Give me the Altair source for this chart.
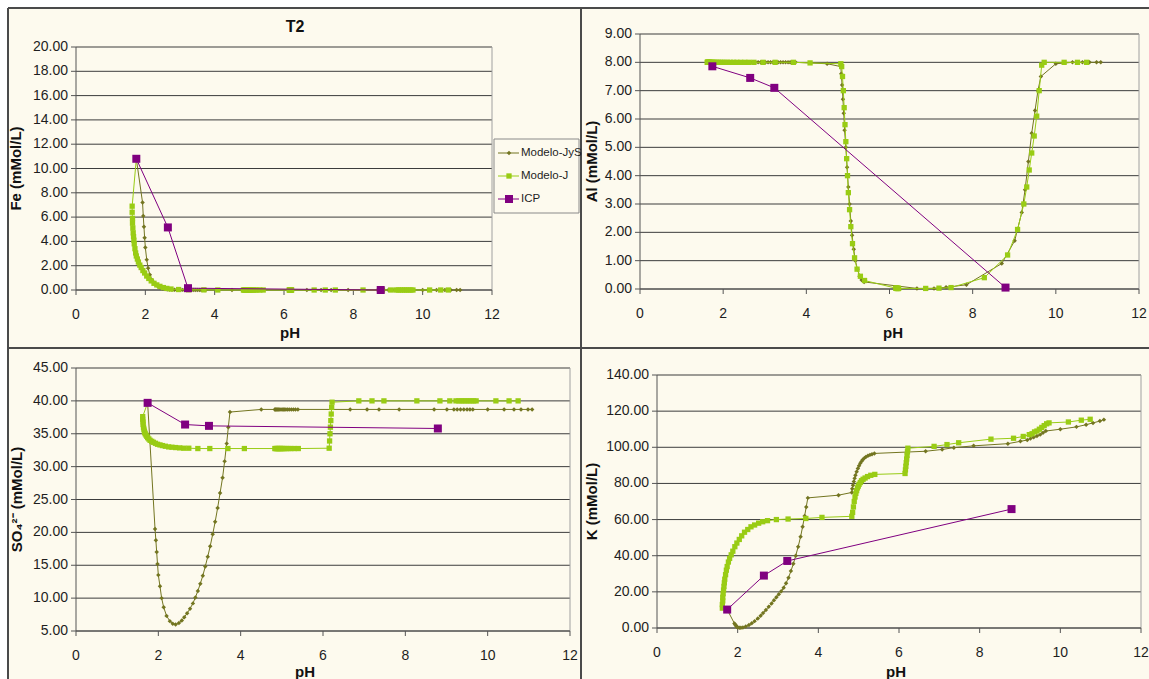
import altair as alt
import pandas as pd

# ---------------- data ----------------
X_TICKS = [0, 2, 4, 6, 8, 10, 12]
FE_TICKS = [0, 2, 4, 6, 8, 10, 12, 14, 16, 18, 20]
AL_TICKS = [0, 1, 2, 3, 4, 5, 6, 7, 8, 9]
SO4_TICKS = [5, 10, 15, 20, 25, 30, 35, 40, 45]
K_TICKS = [0, 20, 40, 60, 80, 100, 120, 140]

SERIES = ["Modelo-JyS", "Modelo-J", "ICP"]

ICP_PH = [1.74, 2.65, 3.23, 8.79]
FE_ICP = [10.8, 5.15, 0.15, 0.0]
AL_ICP = [7.86, 7.45, 7.1, 0.05]
SO4_ICP = [39.7, 36.4, 36.2, 35.8]
K_ICP = [10.2, 29.0, 37.1, 65.8]

J_PH = [1.74,
        1.62, 1.62, 1.63, 1.63, 1.64, 1.65, 1.66, 1.67, 1.68, 1.70,
        1.72, 1.74, 1.77, 1.80, 1.84, 1.88, 1.93, 1.98, 2.04, 2.10,
        2.17, 2.25, 2.33, 2.42, 2.52, 2.62, 2.74,
        2.96, 3.25, 3.69, 4.09,
        4.83, 4.85, 4.87, 4.89, 4.91, 4.93, 4.95, 4.97, 4.99, 5.01,
        5.04, 5.07, 5.11, 5.16, 5.22, 5.30, 5.40,
        6.15, 6.16, 6.17, 6.18, 6.19, 6.20, 6.21, 6.22,
        6.87, 7.19, 7.48, 8.28, 8.84, 9.08, 9.23, 9.30, 9.36, 9.42,
        9.48, 9.54, 9.60, 9.66, 9.72, 10.20, 10.52, 10.74]

FE_J = [10.8,
        6.9, 6.4, 5.9, 5.5, 5.1, 4.7, 4.4, 4.1, 3.8, 3.4,
        3.05, 2.8, 2.55, 2.3, 2.05, 1.85, 1.6, 1.4, 1.15, 0.95,
        0.75, 0.55, 0.42, 0.3, 0.2, 0.13, 0.08,
        0.04, 0.02, 0.01, 0.0,
        0.0, 0.0, 0.0, 0.0, 0.0, 0.0, 0.0, 0.0, 0.0, 0.0,
        0.0, 0.0, 0.0, 0.0, 0.0, 0.0, 0.0,
        0.0, 0.0, 0.0, 0.0, 0.0, 0.0, 0.0, 0.0,
        0.0, 0.0, 0.0, 0.0, 0.0, 0.0, 0.0, 0.0, 0.0, 0.0,
        0.0, 0.0, 0.0, 0.0, 0.0, 0.0, 0.0, 0.0]

AL_J = [7.9,
        8.0, 8.0, 8.0, 8.0, 8.0, 8.0, 8.0, 8.0, 8.0, 8.0,
        8.0, 8.0, 8.0, 8.0, 8.0, 8.0, 8.0, 8.0, 8.0, 8.0,
        8.0, 8.0, 8.0, 8.0, 8.0, 8.0, 8.0,
        8.0, 8.0, 8.0, 7.98,
        7.95, 7.85, 7.5, 7.0, 6.4, 5.8, 5.2, 4.6, 4.0, 3.4,
        2.8, 2.2, 1.6, 1.1, 0.7, 0.45, 0.3,
        0.03, 0.03, 0.02, 0.02, 0.02, 0.02, 0.02, 0.02,
        0.02, 0.03, 0.05, 0.4, 1.2, 2.1, 3.0, 3.6, 4.2, 4.8,
        5.4, 6.1, 7.0, 7.9, 8.0, 8.0, 8.0, 8.0]

SO4_J = [39.7,
         37.6, 37.2, 36.8, 36.4, 36.0, 35.7, 35.4, 35.2, 35.0, 34.8,
         34.6, 34.4, 34.2, 34.0, 33.85, 33.7, 33.55, 33.4, 33.3, 33.2,
         33.1, 33.0, 32.95, 32.9, 32.85, 32.8, 32.8,
         32.75, 32.75, 32.75, 32.75,
         32.75, 32.75, 32.75, 32.75, 32.75, 32.75, 32.75, 32.75, 32.75, 32.75,
         32.75, 32.75, 32.75, 32.75, 32.75, 32.75, 32.75,
         32.8, 33.9, 35.0, 36.0, 37.0, 38.0, 39.0, 39.8,
         40.0, 40.0, 40.0, 40.0, 40.0, 40.0, 40.0, 40.0, 40.0, 40.0,
         40.0, 40.0, 40.0, 40.0, 40.0, 40.0, 40.0, 40.0]

K_J = [10.2,
       11, 13, 15, 17, 19, 21, 23, 25, 27, 29.5,
       32, 34, 36.5, 38.5, 40.5, 42.5, 45, 47, 49, 51,
       53, 54.5, 56, 57, 58, 58.8, 59.4,
       60.0, 60.3, 60.6, 61.2,
       61.8, 64, 67, 70, 72.5, 74.5, 76, 77.5, 78.5, 79.5,
       80.5, 81.5, 82.3, 83, 83.8, 84.5, 85,
       85.5, 87.5, 89.5, 91.5, 93.5, 95.5, 97.5, 99.5,
       100.5, 101.5, 102.5, 104.5, 105, 106, 107, 107.5, 108.5, 109,
       110, 111, 112, 113, 113.5, 114, 115, 115.5]

JYS_PH = [1.74,
          1.92, 1.94, 1.96, 1.98, 2.00, 2.04, 2.08, 2.13, 2.20, 2.28,
          2.35, 2.42, 2.50, 2.57, 2.63, 2.70, 2.77, 2.84, 2.90, 2.96,
          3.02, 3.08, 3.14, 3.20, 3.26, 3.32, 3.38, 3.44, 3.50, 3.56,
          3.61, 3.66, 3.70, 3.74,
          4.50,
          4.83, 4.84, 4.86, 4.88, 4.90, 4.92, 4.95, 4.98, 5.01, 5.04,
          5.07, 5.10, 5.14, 5.18, 5.23, 5.28, 5.33, 5.39,
          6.66, 7.07, 7.36, 7.85, 8.70, 9.01, 9.18, 9.26, 9.34, 9.42,
          9.50, 9.57, 9.64, 10.00, 10.40, 10.64, 10.81, 10.98, 11.08]

FE_JYS = [10.8,
          7.2, 6.1, 5.2, 4.3, 3.5, 2.5, 1.8, 1.25, 0.8, 0.5,
          0.32, 0.2, 0.13, 0.08, 0.05, 0.03, 0.02, 0.02, 0.01, 0.01,
          0.01, 0.01, 0.01, 0.0, 0.0, 0.0, 0.0, 0.0, 0.0, 0.0,
          0.0, 0.0, 0.0, 0.0,
          0.0,
          0.0, 0.0, 0.0, 0.0, 0.0, 0.0, 0.0, 0.0, 0.0, 0.0,
          0.0, 0.0, 0.0, 0.0, 0.0, 0.0, 0.0, 0.0,
          0.0, 0.0, 0.0, 0.0, 0.0, 0.0, 0.0, 0.0, 0.0, 0.0,
          0.0, 0.0, 0.0, 0.0, 0.0, 0.0, 0.0, 0.0, 0.0]

AL_JYS = [7.9,
          8.0, 8.0, 8.0, 8.0, 8.0, 8.0, 8.0, 8.0, 8.0, 8.0,
          8.0, 8.0, 8.0, 8.0, 8.0, 8.0, 8.0, 8.0, 8.0, 8.0,
          8.0, 8.0, 8.0, 8.0, 8.0, 8.0, 8.0, 8.0, 8.0, 8.0,
          8.0, 8.0, 8.0, 8.0,
          7.95,
          7.85, 7.6, 7.2, 6.7, 6.2, 5.6, 5.0, 4.3, 3.6, 3.0,
          2.4, 1.9, 1.4, 1.0, 0.7, 0.45, 0.32, 0.25,
          0.02, 0.02, 0.06, 0.15, 0.9, 1.7, 2.7, 3.5, 4.5, 5.5,
          6.3, 7.0, 7.5, 7.95, 8.0, 8.0, 8.0, 8.0, 8.0]

SO4_JYS = [39.7,
           20.5, 18.8, 17.0, 15.2, 13.5, 11.8, 10.0, 8.6, 7.3, 6.5,
           6.1, 6.0, 6.2, 6.6, 7.1, 7.7, 8.4, 9.2, 10.1, 11.1,
           12.2, 13.4, 14.8, 16.3, 17.9, 19.7, 21.6, 23.7, 26.0, 28.3,
           30.8, 33.5, 36.0, 38.3,
           38.7,
           38.7, 38.7, 38.7, 38.7, 38.7, 38.7, 38.7, 38.7, 38.7, 38.7,
           38.7, 38.7, 38.7, 38.7, 38.7, 38.7, 38.7, 38.7,
           38.7, 38.7, 38.7, 38.7, 38.7, 38.7, 38.7, 38.7, 38.7, 38.7,
           38.7, 38.7, 38.7, 38.7, 38.7, 38.7, 38.7, 38.7, 38.7]

K_JYS = [10.2,
         2.5, 1.8, 1.2, 0.7, 0.3, 0.1, 0.1, 0.3, 0.8, 1.6,
         2.6, 3.8, 5.3, 6.8, 8.3, 10.0, 11.8, 13.6, 15.4, 17.0,
         18.7, 20.3, 22.3, 24.8, 27.8, 31.5, 35.5, 40.0, 45.0, 50.5,
         56.0, 62.0, 67.0, 72.0,
         73.5,
         75, 77, 79, 81, 82.8, 84.5, 86.5, 88.3, 89.8, 91.1,
         92.2, 93.1, 94, 94.7, 95.3, 95.8, 96.2, 96.6,
         97.8, 98.8, 99.8, 100.8, 102, 103.3, 104, 104.8, 105.5, 106.2,
         107, 108, 109, 110, 111.3, 112.5, 113.5, 114.5, 115.3]

# ---------------- styles ----------------
CREAM = "#fdfaee"
OLIVE = "#737520"
LIME = "#99cc14"
PURPLE = "#800080"
GRID = "#3c3c3c"
AXIS = "#555555"
BORDER = "#a0a0a0"
FRAME = "#4a4a4a"
TXT = "#1e1e1e"
FONT = "Liberation Sans Narrow, Arial Narrow, Liberation Sans, Arial, sans-serif"
BOLD = "Liberation Sans, Arial, sans-serif"

STYLE = {
    "Modelo-JyS": dict(color=OLIVE, shape="diamond", size=20),
    "Modelo-J": dict(color=LIME, shape="square", size=28),
    "ICP": dict(color=PURPLE, shape="square", size=64),
}

ONE = pd.DataFrame({"k": [0]})


def frame(ph, vals):
    return pd.DataFrame({"pH": ph, "v": vals, "i": list(range(len(ph)))})


def panel(jys, j, icp, ydom, yticks, ytitle, xr, yr, ytitle_x, ph_xy):
    """One chart panel; xr / yr are the pixel ranges of its plot area."""
    xs = alt.Scale(domain=[0, 12], range=xr, nice=False, zero=False)
    ys = alt.Scale(domain=ydom, range=yr, nice=False, zero=False)
    ymin, ymax = ydom

    def X(f):
        return alt.X(f, scale=xs, axis=None)

    def Y(f):
        return alt.Y(f, scale=ys, axis=None)

    ydf = pd.DataFrame({"t": yticks, "x0": [0] * len(yticks), "x1": [12] * len(yticks)})
    xdf = pd.DataFrame({"t": X_TICKS, "y0": [ymin] * len(X_TICKS)})
    box = pd.DataFrame({"x0": [0], "x1": [12], "y0": [ymin], "y1": [ymax]})

    layers = [
        # horizontal grid
        alt.Chart(ydf).mark_rule(color=GRID, strokeWidth=1).encode(
            x=X("x0:Q"), x2="x1:Q", y=Y("t:Q")),
        # right border of the plot area
        alt.Chart(box).mark_rule(color=BORDER, strokeWidth=1).encode(
            x=X("x1:Q"), y=Y("y0:Q"), y2="y1:Q"),
        # axis lines
        alt.Chart(box).mark_rule(color=AXIS, strokeWidth=1).encode(
            x=X("x0:Q"), y=Y("y0:Q"), y2="y1:Q"),
        alt.Chart(box).mark_rule(color=AXIS, strokeWidth=1).encode(
            x=X("x0:Q"), x2="x1:Q", y=Y("y0:Q")),
        # tick marks
        alt.Chart(ydf).mark_rule(color=AXIS, strokeWidth=1, x2Offset=-5).encode(
            x=X("x0:Q"), x2="x0:Q", y=Y("t:Q")),
        alt.Chart(xdf).mark_rule(color=AXIS, strokeWidth=1, y2Offset=5).encode(
            x=X("t:Q"), y=Y("y0:Q"), y2="y0:Q"),
    ]
    for name, ph, vals in [("Modelo-JyS", JYS_PH, jys), ("Modelo-J", J_PH, j), ("ICP", ICP_PH, icp)]:
        st = STYLE[name]
        base = alt.Chart(frame(ph, vals)).encode(x=X("pH:Q"), y=Y("v:Q"), order=alt.Order("i:Q"))
        layers.append(base.mark_line(color=st["color"], strokeWidth=1))
        layers.append(base.mark_point(color=st["color"], shape=st["shape"], size=st["size"],
                                      filled=True, opacity=1, strokeWidth=0))
    layers += [
        # tick labels
        alt.Chart(ydf).mark_text(align="right", baseline="middle", dx=-8, font=FONT,
                                 fontSize=14, color=TXT).encode(
            x=X("x0:Q"), y=Y("t:Q"), text=alt.Text("t:Q", format=".2f")),
        alt.Chart(xdf).mark_text(align="center", baseline="middle", dy=25, font=FONT,
                                 fontSize=14, color=TXT).encode(
            x=X("t:Q"), y=Y("y0:Q"), text=alt.Text("t:Q", format="d")),
        # axis titles
        alt.Chart(ONE).mark_text(text=ytitle, angle=270, align="center", baseline="middle",
                                 font=BOLD, fontSize=15, fontWeight="bold", color="#111111").encode(
            x=alt.value(ytitle_x), y=alt.value((yr[0] + yr[1]) / 2)),
        alt.Chart(ONE).mark_text(text="pH", align="center", baseline="middle",
                                 font=BOLD, fontSize=15, fontWeight="bold", color="#111111").encode(
            x=alt.value(ph_xy[0]), y=alt.value(ph_xy[1])),
    ]
    return alt.layer(*layers)


TL = panel(FE_JYS, FE_J, FE_ICP, [0, 20], FE_TICKS, "Fe (mMol/L)",
           [76, 492], [290, 47], 16, (290, 333))
TR = panel(AL_JYS, AL_J, AL_ICP, [0, 9], AL_TICKS, "Al (mMol/L)",
           [640, 1139], [289, 34], 592, (893, 333))
BL = panel(SO4_JYS, SO4_J, SO4_ICP, [5, 45], SO4_TICKS, "SO₄²⁻ (mMol/L)",
           [76, 570], [631, 368], 17, (305, 672))
BR = panel(K_JYS, K_J, K_ICP, [0, 140], K_TICKS, "K (mMol/L)",
           [657, 1141], [628, 375], 592, (896, 672))


# ---------------- page decorations (absolute pixels) ----------------
def rule(x1, x2, y1, y2, color=FRAME, width=2):
    return alt.Chart(ONE).mark_rule(color=color, strokeWidth=width).encode(
        x=alt.value(x1), x2=alt.value(x2), y=alt.value(y1), y2=alt.value(y2))


deco = [
    alt.Chart(ONE).mark_rect(fill=CREAM).encode(
        x=alt.value(8), x2=alt.value(1149), y=alt.value(8), y2=alt.value(679)),
    rule(8, 1149, 8, 8),
    rule(8, 8, 8, 679),
    rule(581, 581, 8, 679),
    rule(8, 1149, 348, 348),
]

# legend of the first panel and its title
LEG_Y = [153, 176, 199]
legend = [alt.Chart(ONE).mark_rect(fillOpacity=0, stroke="#8a8a8a", strokeWidth=1).encode(
    x=alt.value(494), x2=alt.value(579), y=alt.value(139), y2=alt.value(213))]
for name, yy in zip(SERIES, LEG_Y):
    st = STYLE[name]
    legend.append(alt.Chart(ONE).mark_rule(color=st["color"], strokeWidth=1).encode(
        x=alt.value(498), x2=alt.value(519), y=alt.value(yy)))
    legend.append(alt.Chart(ONE).mark_point(color=st["color"], shape=st["shape"],
                                            size=st["size"], filled=True, opacity=1,
                                            strokeWidth=0).encode(
        x=alt.value(509), y=alt.value(yy)))
    legend.append(alt.Chart(ONE).mark_text(text=name, align="left", baseline="middle",
                                           font=FONT, fontSize=11.5, color=TXT).encode(
        x=alt.value(521), y=alt.value(yy)))
legend.append(alt.Chart(ONE).mark_text(text="T2", align="center", baseline="middle",
                                       font=BOLD, fontSize=16, fontWeight="bold",
                                       color="#111111").encode(
    x=alt.value(295), y=alt.value(27)))

chart = alt.layer(*deco, TL, TR, BL, BR, *legend).resolve_scale(
    x="independent", y="independent"
).properties(
    width=1149, height=679,
    autosize=alt.AutoSizeParams(type="none"),
    padding=0,
    background="white",
).configure_view(stroke="transparent")

chart.save("out.html", embed_options={"renderer": "svg", "actions": False})
